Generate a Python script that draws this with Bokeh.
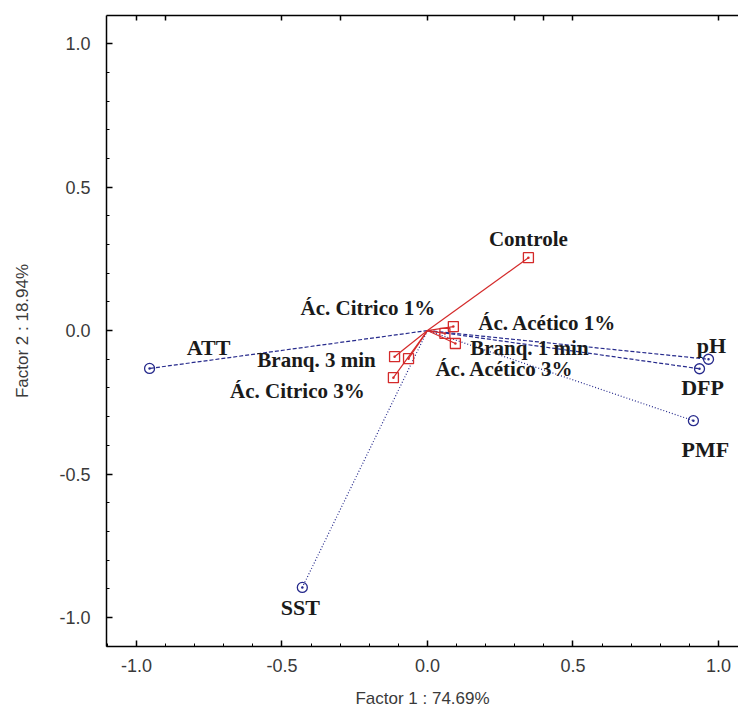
from bokeh.plotting import figure
from bokeh.models import ColumnDataSource, LinearAxis, FixedTicker, Range1d, NumeralTickFormatter
from bokeh.core.properties import value
from bokeh.embed import file_html
from bokeh.resources import INLINE

# Variables (loadings on Factor 1 / Factor 2)
var_names = ["ATT", "pH", "DFP", "PMF", "SST"]
var_f1 = [-0.955, 0.966, 0.935, 0.914, -0.430]
var_f2 = [-0.132, -0.100, -0.133, -0.314, -0.895]

# Treatments (cases)
obs_names = ["Controle", "Ác. Citrico 1%", "Ác. Acético 1%", "Branq. 1 min",
             "Branq. 3 min", "Ác. Acético 3%", "Ác. Citrico 3%"]
obs_f1 = [0.347, 0.060, 0.089, 0.096, -0.113, -0.065, -0.117]
obs_f2 = [0.254, -0.010, 0.014, -0.045, -0.091, -0.098, -0.164]

x_ticks = [-1.0, -0.5, 0.0, 0.5, 1.0]
y_ticks = [-1.0, -0.5, 0.0, 0.5, 1.0]
top_ticks = [-1.0, -0.9, -0.5, -0.3, 0.0, 0.3, 0.4, 0.5, 1.0]

# label placement (screen px offsets) - layout only
var_dx = [59, 3, 3, 12, -2]
var_dy = [-21, -14, 19, 29, 20]
obs_dx = [0, -77, 94, 74, -78, 96, -96]
obs_dy = [-19, -25, -4, 5, 3, 10, 13]
var_dash = ["4 2", "4 2", "4 2", "1 2", "1 2"]

BLUE = "#262a8c"
RED = "#d42a2a"
GREY = "#3a3a3a"

p = figure(width=738, height=712, output_backend="svg", toolbar_location=None,
           x_range=Range1d(-1.103, 1.069), y_range=Range1d(-1.101, 1.098),
           min_border_left=106, min_border_right=0, min_border_top=15, min_border_bottom=66,
           x_axis_label="Factor 1 : 74.69%", y_axis_label="Factor 2 : 18.94%")
p.outline_line_color = None
p.xgrid.visible = False
p.ygrid.visible = False
p.background_fill_color = "white"
p.border_fill_color = "white"

for ax in (p.xaxis[0], p.yaxis[0]):
    ax.axis_line_color = "black"
    ax.axis_line_width = 1.5
    ax.major_tick_in = 6
    ax.major_tick_out = 0
    ax.minor_tick_in = 3
    ax.minor_tick_out = 0
    ax.major_tick_line_width = 1.5
    ax.major_tick_line_color = "black"
    ax.minor_tick_line_color = "black"
    ax.major_label_text_font = "Liberation Sans"
    ax.major_label_text_font_size = "18px"
    ax.major_label_text_color = GREY
    ax.axis_label_text_font = "Liberation Sans"
    ax.axis_label_text_font_size = "17px"
    ax.axis_label_text_font_style = "normal"
    ax.axis_label_text_color = GREY
    ax.formatter = NumeralTickFormatter(format="0.0")

p.xaxis[0].ticker = FixedTicker(ticks=x_ticks, minor_ticks=[round(-1.1 + 0.1 * i, 2) for i in range(22)])
p.yaxis[0].ticker = FixedTicker(ticks=y_ticks, minor_ticks=[round(-1.1 + 0.1 * i, 2) for i in range(23)])
p.xaxis[0].major_label_standoff = 12
p.xaxis[0].axis_label_standoff = 14
p.yaxis[0].major_label_standoff = 16
p.yaxis[0].axis_label_standoff = 24

top = LinearAxis(ticker=FixedTicker(ticks=top_ticks),
                 major_label_text_font_size="1px", major_label_text_color=None,
                 major_label_standoff=0,
                 major_tick_in=5, major_tick_out=0, minor_tick_in=0, minor_tick_out=0,
                 axis_line_width=1.5, axis_line_color="black", major_tick_line_width=1.5)
p.add_layout(top, "above")

n_var = len(var_names)
n_obs = len(obs_names)
vsrc = ColumnDataSource(dict(x=var_f1, y=var_f2, name=var_names, dx=var_dx, dy=var_dy))
osrc = ColumnDataSource(dict(x0=[0.0] * n_obs, y0=[0.0] * n_obs, x=obs_f1, y=obs_f2,
                             name=obs_names, dx=obs_dx, dy=obs_dy))

# variable vectors (blue dotted)
for i in range(n_var):
    p.line(x=[0.0, var_f1[i]], y=[0.0, var_f2[i]], line_color=BLUE, line_width=1.2,
           line_dash=var_dash[i])
p.scatter(x="x", y="y", source=vsrc, marker="circle_dot", size=10, fill_color=None,
          line_color=BLUE, line_width=1.3)

# treatments (red)
p.segment(x0="x0", y0="y0", x1="x", y1="y", source=osrc, line_color=RED, line_width=1.2)
p.scatter(x="x", y="y", source=osrc, marker="square_dot", size=10, fill_color=None,
          line_color=RED, line_width=1.3)

p.text(x="x", y="y", text="name", source=vsrc, x_offset="dx", y_offset="dy",
       text_font=value("Liberation Serif"), text_font_size="22px", text_font_style="bold",
       text_align="center", text_baseline="middle", text_color="#1a1a1a")
p.text(x="x", y="y", text="name", source=osrc, x_offset="dx", y_offset="dy",
       text_font=value("Liberation Serif"), text_font_size="21px", text_font_style="bold",
       text_align="center", text_baseline="middle", text_color="#1a1a1a")

open("out.html", "w").write(file_html(p, INLINE))
